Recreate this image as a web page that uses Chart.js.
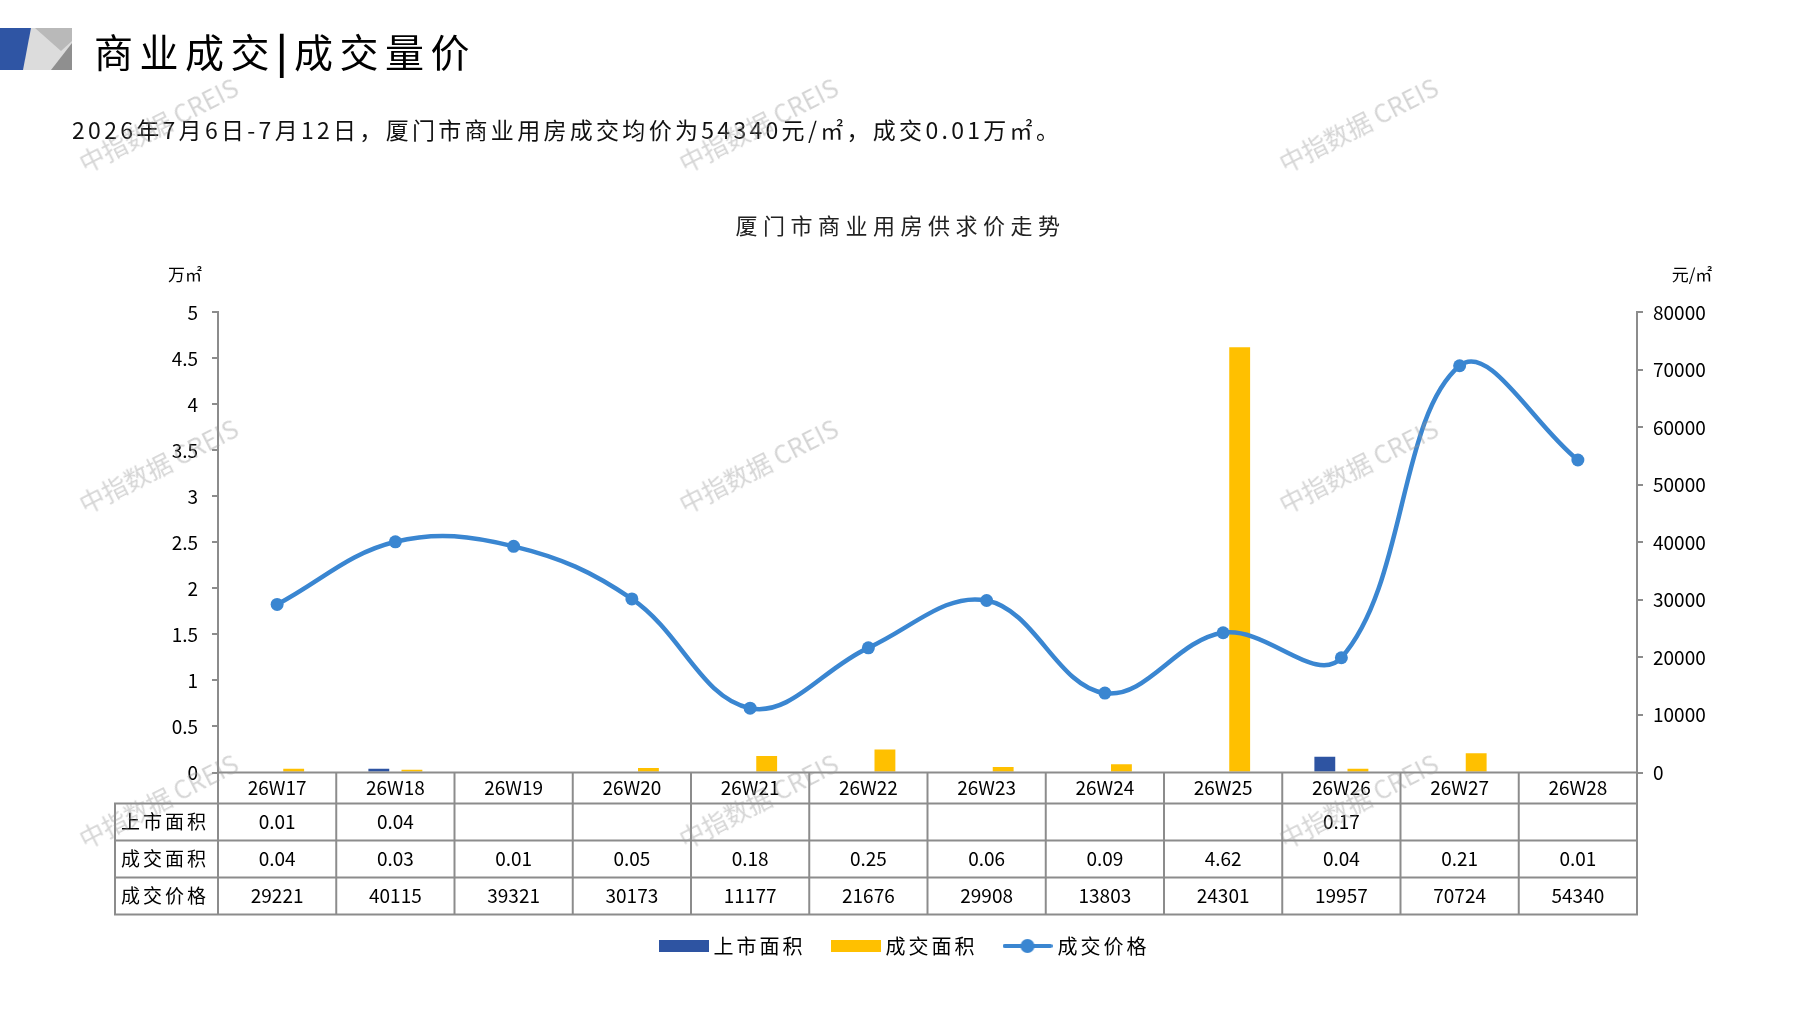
<!DOCTYPE html>
<html><head><meta charset="utf-8">
<script src="https://cdn.jsdelivr.net/npm/chart.js@4.4.1/dist/chart.umd.min.js"></script>
<style>
html,body{margin:0;padding:0;background:#fff;width:1797px;height:1010px;overflow:hidden;font-family:"Noto Sans CJK SC","Noto Sans",sans-serif;}
#wrap{position:relative;width:1797px;height:1010px;}
#chart{position:absolute;left:0;top:0;}
.hdr{position:absolute;white-space:nowrap;color:#000;}
.wm{position:absolute;color:rgba(150,150,150,0.40);font-size:25px;white-space:nowrap;pointer-events:none;font-family:"Noto Sans CJK SC",sans-serif;transform:translate(-50%,-50%) rotate(-27deg);}
</style></head>
<body><div id="wrap">
<canvas id="chart" width="1797" height="1010"></canvas>
<svg class="hdr" style="left:0;top:28px" width="72" height="42">
  <rect x="20" y="0" width="52" height="42" fill="#dcdcdc"/>
  <polygon points="35,0 72,0 72,13 61,23" fill="#b9b9b9"/>
  <polygon points="72,15 72,42 51,42" fill="#8f8f8f"/>
  <polygon points="0,0 31,0 23,42 0,42" fill="#2F55A4"/>
</svg>
<div class="hdr" style="left:94px;top:22px;font-size:39px;line-height:56px;letter-spacing:6.5px;">商业成交<span style="font-weight:700">|</span>成交量价</div>
<div class="hdr" style="left:72px;top:112px;font-size:23px;line-height:34px;letter-spacing:3.3px;color:#111;">2026年7月6日-7月12日，厦门市商业用房成交均价为54340元/㎡，成交0.01万㎡。</div>
<div class="wm" style="left:158px;top:124px">中指数据 CREIS</div>
<div class="wm" style="left:758px;top:124px">中指数据 CREIS</div>
<div class="wm" style="left:1358px;top:124px">中指数据 CREIS</div>
<div class="wm" style="left:158px;top:465px">中指数据 CREIS</div>
<div class="wm" style="left:758px;top:465px">中指数据 CREIS</div>
<div class="wm" style="left:1358px;top:465px">中指数据 CREIS</div>
<div class="wm" style="left:158px;top:800px">中指数据 CREIS</div>
<div class="wm" style="left:758px;top:800px">中指数据 CREIS</div>
<div class="wm" style="left:1358px;top:800px">中指数据 CREIS</div>
</div>
<script>
const categories = ['26W17','26W18','26W19','26W20','26W21','26W22','26W23','26W24','26W25','26W26','26W27','26W28'];
const listedArea = [0.01,0.04,null,null,null,null,null,null,null,0.17,null,null];
const dealArea = [0.04,0.03,0.01,0.05,0.18,0.25,0.06,0.09,4.62,0.04,0.21,0.01];
const dealPrice = [29221,40115,39321,30173,11177,21676,29908,13803,24301,19957,70724,54340];
const seriesNames = ['上市面积','成交面积','成交价格'];
const chartTitle = '厦门市商业用房供求价走势';
const leftUnit = '万㎡';
const rightUnit = '元/㎡';

const FONT = '"Noto Sans CJK SC","Noto Sans",sans-serif';
const BLUE_BAR = '#2E54A2';
const YELLOW = '#FFC000';
const LINE = '#3A86D1';
const GRID = '#8c8c8c';

function boxIcon(color){
  const c=document.createElement('canvas'); c.width=50; c.height=12;
  const g=c.getContext('2d'); g.fillStyle=color; g.fillRect(0,0,50,12); return c;
}
function lineIcon(color){
  const c=document.createElement('canvas'); c.width=50; c.height=16;
  const g=c.getContext('2d'); g.strokeStyle=color; g.lineWidth=4; g.lineCap='round';
  g.beginPath(); g.moveTo(2,8); g.lineTo(48,8); g.stroke();
  g.fillStyle=color; g.beginPath(); g.arc(25,8,7,0,Math.PI*2); g.fill(); return c;
}
const icons=[boxIcon(BLUE_BAR), boxIcon(YELLOW), lineIcon(LINE)];

const tablePlugin = {
  id:'dataTable',
  afterDraw(chart){
    const ctx=chart.ctx, xs=chart.scales.x, ca=chart.chartArea;
    const n=categories.length, cw=(xs.right-xs.left)/n;
    const top=ca.bottom;
    const rows=[top, top+31, top+68, top+105, top+142];
    const labelLeft=115;
    ctx.save();
    ctx.strokeStyle=GRID; ctx.lineWidth=2;
    const ln=(x1,y1,x2,y2)=>{ctx.beginPath();ctx.moveTo(x1,y1);ctx.lineTo(x2,y2);ctx.stroke();};
    ln(xs.left-1, rows[0], xs.right+1, rows[0]);
    for(let r=1;r<rows.length;r++) ln(labelLeft-1, rows[r], xs.right+1, rows[r]);
    for(let i=0;i<=n;i++){ const x=xs.left+i*cw; ln(x, rows[0], x, rows[4]); }
    ln(labelLeft, rows[1], labelLeft, rows[4]);
    ctx.fillStyle='#000'; ctx.textAlign='center'; ctx.textBaseline='middle';
    ctx.font='19px '+FONT;
    const mid=(r)=>(rows[r]+rows[r+1])/2;
    const fmtA=v=>v==null?'':v.toFixed(2);
    categories.forEach((c,i)=>{
      const x=xs.getPixelForValue(i);
      ctx.fillText(c, x, mid(0));
      ctx.fillText(fmtA(listedArea[i]), x, mid(1));
      ctx.fillText(fmtA(dealArea[i]), x, mid(2));
      ctx.fillText(String(dealPrice[i]), x, mid(3));
    });
    ctx.letterSpacing='3px';
    ctx.textAlign='left';
    seriesNames.forEach((s,r)=>{ ctx.fillText(s, labelLeft+6, mid(r+1)); });
    ctx.letterSpacing='0px';
    ctx.font='17px '+FONT;
    ctx.textAlign='center';
    ctx.fillText(leftUnit, ca.left-33, ca.top-38);
    ctx.fillText(rightUnit, ca.right+55, ca.top-38);
    ctx.restore();
  }
};

const tickFont={size:19,family:FONT};
const chart = new Chart(document.getElementById('chart').getContext('2d'), {
  type:'bar',
  data:{
    labels:categories,
    datasets:[
      {label:seriesNames[0], data:listedArea, backgroundColor:BLUE_BAR, yAxisID:'y', order:2, categoryPercentage:0.56, barPercentage:0.63},
      {label:seriesNames[1], data:dealArea, backgroundColor:YELLOW, yAxisID:'y', order:2, categoryPercentage:0.56, barPercentage:0.63},
      {type:'line', label:seriesNames[2], data:dealPrice, yAxisID:'y1', order:1,
       borderColor:LINE, backgroundColor:LINE, borderWidth:4.5, pointRadius:6.5,
       pointBackgroundColor:LINE, pointBorderColor:LINE, pointBorderWidth:0, tension:0.38}
    ]
  },
  options:{
    responsive:false, animation:false, devicePixelRatio:1,
    layout:{padding:{left:0,right:0,top:0,bottom:44}},
    plugins:{
      title:{display:true, text:chartTitle, color:'#222', font:{size:22,family:FONT,weight:'normal'}, padding:{top:212,bottom:74}},
      legend:{position:'bottom',
        labels:{usePointStyle:true, pointStyleWidth:40, boxHeight:12, padding:30, color:'#000',
          font:{size:20,family:FONT},
          sort:(a,b)=>a.datasetIndex-b.datasetIndex,
          generateLabels(chart){
            const items=Chart.defaults.plugins.legend.labels.generateLabels(chart);
            items.forEach(it=>{it.pointStyle=icons[it.datasetIndex];});
            return items;
          }}},
      tooltip:{enabled:false}
    },
    scales:{
      x:{grid:{display:false}, border:{display:false}, ticks:{display:false},
         afterFit(s){s.height=133.5;}},
      y:{position:'left', min:0, max:5,
         ticks:{stepSize:0.5, font:tickFont, color:'#000', padding:14, callback:v=>String(v)},
         grid:{drawOnChartArea:false, color:GRID, tickLength:6, lineWidth:2},
         border:{color:GRID, width:2},
         afterFit(s){s.width=218;}},
      y1:{position:'right', min:0, max:80000,
         ticks:{stepSize:10000, font:tickFont, color:'#000', padding:10, callback:v=>String(v)},
         grid:{drawOnChartArea:false, color:GRID, tickLength:6, lineWidth:2},
         border:{color:GRID, width:2},
         afterFit(s){s.width=160;}}
    }
  },
  plugins:[tablePlugin]
});

// letter spacing (and a small horizontal nudge) for legend and title text, as in the reference
function spaced(box, px, dx){
  if(!box) return;
  const c=chart.ctx;
  if(typeof box.fit==='function'){
    const f=box.fit.bind(box);
    box.fit=function(){ const o=c.letterSpacing; c.letterSpacing=px; f(); c.letterSpacing=o; };
  }
  if(typeof box.draw==='function'){
    const d=box.draw.bind(box);
    box.draw=function(a){ c.save(); c.translate(dx,0); const o=c.letterSpacing; c.letterSpacing=px; d(a); c.letterSpacing=o; c.restore(); };
  }
}
spaced(chart.legend,'3px',8);
spaced(chart.titleBlock,'5.5px',2);
chart.update();
</script>
</body></html>
